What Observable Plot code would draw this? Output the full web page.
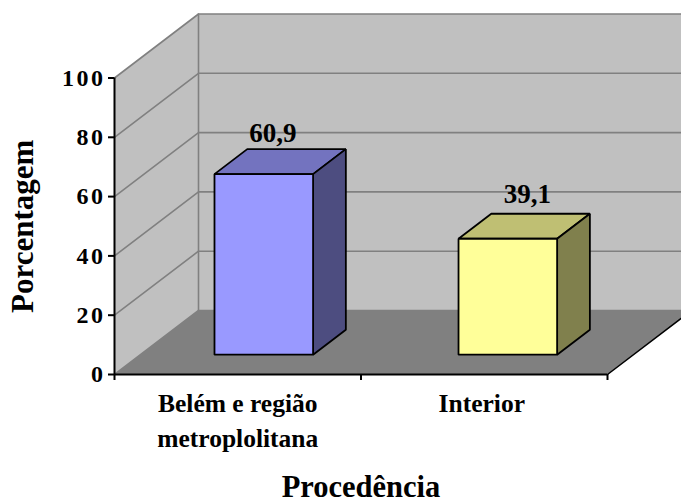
<!DOCTYPE html>
<html lang="pt">
<head>
<meta charset="utf-8">
<title>Procedência</title>
<style>
  html, body { margin: 0; padding: 0; background: #fff; overflow: hidden; }
  g[aria-label="y-axis tick label"] text { letter-spacing: 2.5px; }
</style>
<script src="https://cdn.jsdelivr.net/npm/d3@7"></script>
<script src="https://cdn.jsdelivr.net/npm/@observablehq/plot@0.6"></script>
</head>
<body>
<div id="chart"></div>
<script>
const categories = ["Belém e região\nmetroplolitana", "Interior"];
const values = [60.9, 39.1];
const frontColors = ["#9999ff", "#ffff99"];
const topColors = ["#7373bf", "#bfbf73"];
const sideColors = ["#4d4d80", "#80804d"];
const yTicks = [0, 20, 40, 60, 80, 100];
const serif = "'Liberation Serif', 'Times New Roman', serif";

// Oblique projection: depth runs 0 (front) to 1 (back wall).
const depthX = 84 / 246.5;
const depthY = 64 / 2.965;
const project = (x, y, d) => ({x: x + d * depthX, y: y + d * depthY});

const barHalf = 0.2;
const barCenter = (i) => 0.5 + i * 0.99;
const depthNear = 0.31;
const depthFar = 0.7;
const xMax = categories.length;
const yMax = 100;

// A filled, closed quadrilateral given as [x, y, depth] corners.
const quad = (corners, fill, stroke = "none", strokeWidth = 1.8) =>
  Plot.line(corners.map(([x, y, d]) => project(x, y, d)), {
    x: "x", y: "y", curve: "linear-closed", fill, stroke, strokeWidth,
    strokeLinejoin: "miter", strokeLinecap: "square"
  });

// An open polyline in the same coordinates.
const path = (corners, stroke, strokeWidth) =>
  Plot.line(corners.map(([x, y, d]) => project(x, y, d)), {
    x: "x", y: "y", stroke, strokeWidth, strokeLinejoin: "miter"
  });

const wallColor = "#c0c0c0";
const floorColor = "#808080";
const gridColor = "#808080";

const bars = categories.flatMap((c, i) => {
  const x1 = barCenter(i) - barHalf, x2 = barCenter(i) + barHalf, v = values[i];
  return [
    quad([[x1, v, depthNear], [x2, v, depthNear], [x2, v, depthFar], [x1, v, depthFar]], topColors[i], "#000"),
    quad([[x2, 0, depthNear], [x2, 0, depthFar], [x2, v, depthFar], [x2, v, depthNear]], sideColors[i], "#000"),
    quad([[x1, 0, depthNear], [x2, 0, depthNear], [x2, v, depthNear], [x1, v, depthNear]], frontColors[i], "#000")
  ];
});

// Value labels sit over each bar's top face.
const valueLabels = values.map((v, i) =>
  Plot.text([v], {
    x: (d) => project(barCenter(i), d, 0.5).x,
    y: (d) => project(0, d, depthFar).y,
    text: (d) => d.toFixed(1).replace(".", ","),
    dx: i === 0 ? -7 : 3.5,
    dy: i === 0 ? -7 : -11,
    lineAnchor: "bottom",
    fontSize: 27, fontWeight: "bold", fontFamily: serif, fill: "#000"
  })
);

const chart = Plot.plot({
  width: 681,
  height: 503,
  marginLeft: 114,
  marginRight: 74,
  marginTop: 77.5,
  marginBottom: 129,
  style: {background: "#fff", fontFamily: serif, color: "#000"},
  x: {type: "linear", domain: [0, xMax], axis: null},
  y: {type: "linear", domain: [0, yMax], axis: null},
  marks: [
    // Walls and floor
    quad([[0, 0, 1], [xMax, 0, 1], [xMax, yMax, 1], [0, yMax, 1]], wallColor),
    quad([[0, 0, 0], [0, 0, 1], [0, yMax, 1], [0, yMax, 0]], wallColor),
    quad([[0, 0, 0], [xMax, 0, 0], [xMax, 0, 1], [0, 0, 1]], floorColor),

    // Gridlines wrap from the side wall onto the back wall
    ...yTicks.map((t) => path([[0, t, 0], [0, t, 1], [xMax, t, 1]], gridColor, 1.6)),
    path([[0, 0, 1], [0, yMax, 1]], gridColor, 1.6),

    // Floor border and axes
    path([[xMax, 0, 0], [xMax, 0, 1]], "#000", 1.5),
    Plot.ruleY([0], {x1: 0, x2: xMax, stroke: "#000", strokeWidth: 2}),
    Plot.ruleX([0], {y1: 0, y2: yMax, stroke: "#000", strokeWidth: 2}),
    Plot.axisY(yTicks, {
      anchor: "left", tickSize: 6, tickPadding: 3, label: null, stroke: "#000", strokeWidth: 2,
      fontSize: 24, fontWeight: "bold", fontFamily: serif, fill: "#000"
    }),
    Plot.axisX([0, 1, 2], {
      anchor: "bottom", tickSize: 6, tickPadding: 0, label: null, tickFormat: () => "", stroke: "#000", strokeWidth: 2
    }),

    // Category labels
    Plot.text(categories, {
      x: (d, i) => barCenter(i), y: () => 0, text: (d) => d, dy: 13, lineHeight: 1.36, lineAnchor: "top",
      fontSize: 25.5, fontWeight: "bold", fontFamily: serif, fill: "#000"
    }),

    // Axis titles
    Plot.text(["Procedência"], {
      x: () => 1, y: () => 0, dy: 122, lineAnchor: "bottom",
      fontSize: 30.5, fontWeight: "bold", fontFamily: serif, fill: "#000"
    }),
    Plot.text(["Porcentagem"], {
      y: () => 50, frameAnchor: "left", textAnchor: "middle", dx: -91, rotate: -90,
      fontSize: 31, fontWeight: "bold", fontFamily: serif, fill: "#000"
    }),

    ...bars,
    ...valueLabels
  ]
});

document.getElementById("chart").appendChild(chart);
</script>
</body>
</html>
